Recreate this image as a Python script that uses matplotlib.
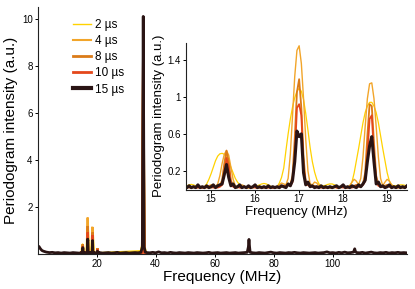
import numpy as np
import matplotlib
matplotlib.use("Agg")
import matplotlib.pyplot as plt
from matplotlib.lines import Line2D

plt.rcParams['font.family'] = ['Liberation Sans', 'DejaVu Sans']

# ---------------- data ----------------
labels = ['2 µs', '4 µs', '8 µs', '10 µs', '15 µs']
colors = ['#FFD200', '#F2A52A', '#DB7B18', '#E4471B', '#2A1414']

# zoomed frequency grid (MHz)
f_zoom = np.round(np.arange(14.40, 19.451, 0.05), 2)

p2 = [0.03, 0.04, 0.05, 0.055, 0.05, 0.04, 0.03, 0.02, 0.02, 0.03,
      0.06, 0.11, 0.17, 0.24, 0.31, 0.36, 0.385, 0.39, 0.38, 0.35,
      0.30, 0.24, 0.18, 0.12, 0.08, 0.05, 0.035, 0.025, 0.02, 0.02,
      0.02, 0.025, 0.03, 0.04, 0.05, 0.06, 0.065, 0.06, 0.05, 0.035,
      0.025, 0.02, 0.03, 0.07, 0.13, 0.23, 0.42, 0.60, 0.76, 0.89,
      0.99, 1.06, 1.09, 1.06, 0.97, 0.82, 0.64, 0.45, 0.30, 0.19,
      0.11, 0.06, 0.04, 0.04, 0.045, 0.055, 0.06, 0.06, 0.05, 0.04,
      0.03, 0.025, 0.03, 0.03, 0.03, 0.04, 0.08, 0.18, 0.31, 0.44,
      0.58, 0.72, 0.83, 0.90, 0.94, 0.94, 0.90, 0.83, 0.72, 0.58,
      0.44, 0.31, 0.18, 0.09, 0.05, 0.04, 0.04, 0.045, 0.05, 0.05,
      0.045, 0.04]

p4 = [0.02, 0.02, 0.03, 0.02, 0.02, 0.03, 0.02, 0.02, 0.03, 0.03,
      0.03, 0.04, 0.05, 0.04, 0.03, 0.06, 0.15, 0.28, 0.38, 0.42,
      0.37, 0.24, 0.11, 0.04, 0.03, 0.04, 0.05, 0.04, 0.02, 0.02,
      0.02, 0.02, 0.03, 0.02, 0.02, 0.02, 0.02, 0.03, 0.02, 0.02,
      0.02, 0.02, 0.03, 0.05, 0.07, 0.06, 0.05, 0.12, 0.38, 0.80,
      1.22, 1.50, 1.55, 1.36, 0.98, 0.54, 0.20, 0.06, 0.05, 0.08,
      0.07, 0.04, 0.02, 0.02, 0.02, 0.03, 0.02, 0.02, 0.02, 0.03,
      0.02, 0.02, 0.03, 0.02, 0.02, 0.04, 0.08, 0.11, 0.09, 0.05,
      0.12, 0.35, 0.68, 0.98, 1.14, 1.15, 0.98, 0.68, 0.35, 0.12,
      0.04, 0.08, 0.11, 0.09, 0.05, 0.03, 0.02, 0.02, 0.03, 0.02,
      0.02, 0.03]

p8 = [0.02, 0.03, 0.02, 0.02, 0.03, 0.02, 0.03, 0.02, 0.02, 0.03,
      0.02, 0.03, 0.02, 0.03, 0.02, 0.03, 0.04, 0.10, 0.28, 0.42,
      0.30, 0.10, 0.04, 0.03, 0.02, 0.03, 0.02, 0.03, 0.02, 0.02,
      0.03, 0.02, 0.03, 0.02, 0.02, 0.03, 0.02, 0.02, 0.03, 0.02,
      0.02, 0.03, 0.02, 0.03, 0.04, 0.03, 0.04, 0.06, 0.05, 0.15,
      0.55, 1.05, 1.19, 0.88, 0.35, 0.08, 0.05, 0.04, 0.03, 0.04,
      0.03, 0.02, 0.03, 0.02, 0.02, 0.03, 0.02, 0.02, 0.03, 0.02,
      0.02, 0.03, 0.04, 0.02, 0.02, 0.03, 0.03, 0.04, 0.05, 0.04,
      0.04, 0.06, 0.18, 0.58, 0.92, 0.90, 0.50, 0.15, 0.05, 0.04,
      0.03, 0.04, 0.05, 0.03, 0.02, 0.03, 0.02, 0.02, 0.03, 0.02,
      0.03, 0.04]

p10 = [0.02, 0.02, 0.03, 0.02, 0.03, 0.02, 0.02, 0.03, 0.02, 0.02,
       0.03, 0.02, 0.03, 0.02, 0.03, 0.02, 0.03, 0.05, 0.18, 0.34,
       0.24, 0.06, 0.03, 0.02, 0.03, 0.02, 0.02, 0.03, 0.02, 0.03,
       0.02, 0.03, 0.02, 0.02, 0.03, 0.02, 0.03, 0.02, 0.02, 0.03,
       0.02, 0.02, 0.03, 0.02, 0.03, 0.04, 0.03, 0.05, 0.04, 0.08,
       0.35, 0.88, 0.92, 0.80, 0.25, 0.06, 0.05, 0.03, 0.04, 0.03,
       0.02, 0.03, 0.02, 0.03, 0.02, 0.02, 0.03, 0.02, 0.03, 0.02,
       0.02, 0.03, 0.02, 0.03, 0.02, 0.03, 0.02, 0.03, 0.04, 0.03,
       0.03, 0.05, 0.09, 0.38, 0.76, 0.80, 0.38, 0.08, 0.04, 0.03,
       0.03, 0.02, 0.03, 0.04, 0.02, 0.03, 0.02, 0.03, 0.02, 0.03,
       0.02, 0.03]

p15 = [0.03, 0.02, 0.04, 0.02, 0.03, 0.02, 0.05, 0.02, 0.03, 0.02,
       0.04, 0.02, 0.03, 0.05, 0.02, 0.04, 0.05, 0.06, 0.16, 0.27,
       0.13, 0.04, 0.06, 0.02, 0.03, 0.05, 0.02, 0.03, 0.02, 0.04,
       0.02, 0.03, 0.05, 0.02, 0.03, 0.02, 0.03, 0.02, 0.04, 0.02,
       0.03, 0.02, 0.03, 0.02, 0.04, 0.03, 0.02, 0.06, 0.04, 0.10,
       0.30, 0.63, 0.57, 0.60, 0.18, 0.05, 0.08, 0.03, 0.04, 0.02,
       0.03, 0.02, 0.04, 0.02, 0.03, 0.02, 0.03, 0.02, 0.03, 0.04,
       0.02, 0.03, 0.05, 0.02, 0.03, 0.02, 0.04, 0.03, 0.02, 0.05,
       0.03, 0.06, 0.10, 0.30, 0.47, 0.57, 0.30, 0.06, 0.08, 0.03,
       0.04, 0.02, 0.03, 0.05, 0.02, 0.03, 0.02, 0.04, 0.02, 0.03,
       0.02, 0.04]

# extra main-panel points for coloured traces (20.3 MHz comb line, 35.8 MHz line)
f_ext = [19.7, 20.0, 20.15, 20.3, 20.45, 20.6, 20.9, 35.0, 35.4, 35.6, 35.8, 36.0, 36.2, 36.6]
e2 = [0.04, 0.07, 0.09, 0.10, 0.09, 0.07, 0.04, 0.12, 0.35, 3.5, 6.0, 3.5, 0.35, 0.12]
e4 = [0.03, 0.05, 0.15, 0.20, 0.15, 0.05, 0.03, 0.05, 0.10, 5.0, 8.0, 5.0, 0.10, 0.05]
e8 = [0.03, 0.03, 0.10, 0.25, 0.10, 0.03, 0.03, 0.04, 0.05, 5.0, 9.0, 5.0, 0.05, 0.04]
e10 = [0.03, 0.03, 0.08, 0.20, 0.08, 0.03, 0.03, 0.04, 0.05, 4.0, 9.5, 4.0, 0.05, 0.04]

# full-range 15 us trace outside the zoomed window
black_f = [0, 0.5, 1, 1.5, 2, 3, 4, 5, 6, 7, 8, 9, 10, 11, 12, 13, 14,
           20, 20.3, 20.6, 21, 22, 23, 24, 25, 26, 27, 28, 29, 30, 31, 32, 33, 34, 35,
           35.5, 35.8, 36.1, 36.5, 37, 38, 39, 40, 41, 42, 43, 44, 45, 46, 47, 48, 49,
           50, 51, 52, 53, 54, 55, 56, 57, 58, 59, 60, 61, 62, 63, 64, 65, 66, 67, 68,
           69, 70, 71, 71.4, 71.6, 71.8, 72, 73, 74, 75, 76, 77, 78, 79, 80, 81, 82,
           83, 84, 85, 86, 87, 88, 89, 90, 91, 92, 93, 94, 95, 96, 97, 98, 99, 100,
           101, 102, 103, 104, 105, 106, 107, 107.2, 107.4, 107.6, 108, 109, 110, 111,
           112, 113, 114, 115, 116, 117, 118, 119, 120, 121, 122, 123, 124, 125]
black_v = [0.30, 0.32, 0.22, 0.15, 0.12, 0.08, 0.06, 0.07, 0.05, 0.06, 0.04, 0.06, 0.05, 0.04, 0.06, 0.05, 0.04,
           0.05, 0.12, 0.05, 0.06, 0.04, 0.05, 0.06, 0.04, 0.05, 0.07, 0.04, 0.05, 0.06, 0.04, 0.05, 0.06, 0.05, 0.07,
           0.30, 10.1, 0.30, 0.08, 0.06, 0.05, 0.07, 0.05, 0.09, 0.05, 0.06, 0.04, 0.07, 0.05, 0.04, 0.06, 0.05,
           0.04, 0.06, 0.05, 0.04, 0.06, 0.05, 0.04, 0.05, 0.07, 0.04, 0.05, 0.06, 0.04, 0.05, 0.06, 0.04, 0.05, 0.06, 0.04,
           0.05, 0.06, 0.07, 0.30, 0.62, 0.30, 0.07, 0.05, 0.04, 0.06, 0.05, 0.04, 0.06, 0.08, 0.05, 0.04, 0.06,
           0.05, 0.04, 0.06, 0.05, 0.07, 0.05, 0.04, 0.06, 0.05, 0.04, 0.05, 0.06, 0.04, 0.05, 0.06, 0.09, 0.05, 0.06,
           0.04, 0.07, 0.05, 0.08, 0.05, 0.06, 0.08, 0.15, 0.22, 0.12, 0.06, 0.05, 0.07, 0.04,
           0.06, 0.08, 0.05, 0.04, 0.06, 0.05, 0.07, 0.04, 0.06, 0.05, 0.07, 0.05, 0.06, 0.05]

main_xticks = [20, 40, 60, 80, 100]
main_yticks = [2, 4, 6, 8, 10]
inset_xticks = [15, 16, 17, 18, 19]
inset_yticks = [0.2, 0.6, 1.0, 1.4]
inset_yticklabels = ['0.2', '0.6', '1', '1.4']

# ---------------- figure ----------------
W, H = 415, 289
fig = plt.figure(figsize=(W / 100, H / 100), dpi=100)

ax = fig.add_axes([37.5 / W, 1 - 254 / H, (406.7 - 37.5) / W, (254 - 7) / H])
zoom_series = [p2, p4, p8, p10]
ext_series = [e2, e4, e8, e10]
for vals, ev, c in zip(zoom_series, ext_series, colors[:4]):
    fx = np.concatenate([f_zoom, f_ext])
    fy = np.concatenate([vals, ev])
    ax.plot(fx, fy, color=c, lw=1.6, solid_joinstyle='miter')

bf = np.concatenate([np.array(black_f, float), f_zoom])
bv = np.concatenate([np.array(black_v, float), np.array(p15, float)])
order = np.argsort(bf, kind='stable')
ax.plot(bf[order], bv[order], color=colors[4], lw=2.0)

ax.set_xlim(0, 125)
ax.set_ylim(0, 10.5)
ax.set_xticks(main_xticks)
ax.set_yticks(main_yticks)
for s in ['top', 'right']:
    ax.spines[s].set_visible(False)
for s in ['left', 'bottom']:
    ax.spines[s].set_linewidth(0.8)
    ax.spines[s].set_color('#222222')
ax.tick_params(direction='out', length=2, width=0.7, labelsize=7, pad=1.5)
ax.set_xlabel('Frequency (MHz)', fontsize=11, labelpad=1)
ax.set_ylabel('Periodogram intensity (a.u.)', fontsize=11, labelpad=3)

# legend
leg_w = [1.0, 1.5, 2.0, 2.0, 3.0]
handles = [Line2D([], [], color=c, lw=w) for c, w in zip(colors, leg_w)]
ax.legend(handles, labels, loc='upper left', bbox_to_anchor=(73 / W, 1 - 19 / H),
          bbox_transform=fig.transFigure, frameon=False, fontsize=8.5,
          handlelength=1.5, handletextpad=0.35, labelspacing=0.35,
          borderpad=0, borderaxespad=0)

# inset
ax2 = fig.add_axes([186 / W, 1 - 189.5 / H, (407 - 186) / W, (189.5 - 43) / H])
ax2.set_facecolor('white')
inset_w = [0.9, 1.0, 1.3, 1.3, 2.2]
for vals, c, w in zip([p2, p4, p8, p10, p15], colors, inset_w):
    ax2.plot(f_zoom, vals, color=c, lw=w)
ax2.set_xlim(14.43, 19.45)
ax2.set_ylim(0, 1.58)
ax2.set_xticks(inset_xticks)
ax2.set_yticks(inset_yticks)
ax2.set_yticklabels(inset_yticklabels)
for s in ['top', 'right']:
    ax2.spines[s].set_visible(False)
for s in ['left', 'bottom']:
    ax2.spines[s].set_linewidth(0.8)
    ax2.spines[s].set_color('#222222')
ax2.tick_params(direction='out', length=2, width=0.7, labelsize=7, pad=1.5)
ax2.set_xlabel('Frequency (MHz)', fontsize=9.5, labelpad=1)
ax2.set_ylabel('Periodogram intensity (a.u.)', fontsize=9.5, labelpad=2)

fig.savefig('out.png', dpi=100)
